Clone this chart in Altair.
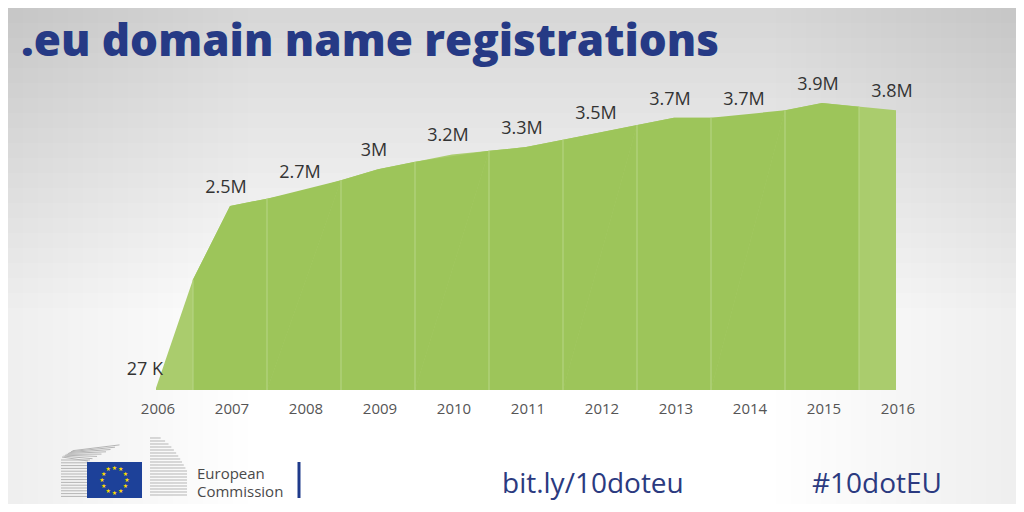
import altair as alt
import numpy as np
import pandas as pd

# ---------------- data ----------------
years = [2006, 2007, 2008, 2009, 2010, 2011, 2012, 2013, 2014, 2015, 2016]
values = [27000, 2500000, 2700000, 3000000, 3200000, 3300000, 3500000,
          3700000, 3700000, 3900000, 3800000]
labels = ["27 K", "2.5M", "2.7M", "3M", "3.2M", "3.3M", "3.5M",
          "3.7M", "3.7M", "3.9M", "3.8M"]
# extra visible vertex of the outline between 2006 and 2007
kink_years = [2006.5]
kink_values = [1500000]

W, H = 1008, 496

pts = pd.DataFrame({"year": years, "value": values, "label": labels})
area_df = pd.concat([
    pts[["year", "value"]],
    pd.DataFrame({"year": kink_years, "value": kink_values}),
]).sort_values("year").reset_index(drop=True)

# clip the outline into the alternate (darker) year columns
xs = area_df["year"].to_numpy(dtype=float)
vs = area_df["value"].to_numpy(dtype=float)
band_rows = []
for yr in years[1::2]:
    lo, hi = yr - 0.5, yr + 0.5
    cols = [lo] + [x for x in xs if lo < x < hi] + [hi]
    for x in cols:
        band_rows.append({"band": yr, "year": x, "value": float(np.interp(x, xs, vs))})
band_df = pd.DataFrame(band_rows)
sep_x = [y + 0.5 for y in years[:-1]]
sep_df = pd.DataFrame({"year": sep_x, "value": np.interp(sep_x, xs, vs)})

xscale = alt.Scale(domain=[2006, 2016], range=[148, 888], nice=False, zero=False)
yscale = alt.Scale(domain=[0, 4000000], range=[382, 87.6], nice=False)
X = alt.X("year:Q", scale=xscale, axis=None)
Y = alt.Y("value:Q", scale=yscale, axis=None)

LIGHT, DARK, SEP = "#aacc6d", "#9dc55a", "#b8d687"

one = alt.Data(values=[{"k": 1}])

# ---- soft vignette (stacked translucent strips) ----
vig_top = alt.Chart(alt.sequence(1, 21, as_="i")).transform_calculate(
    t0="0", t1="datum.i * 15"
).mark_rect(color="#000000", opacity=0.006).encode(
    x=alt.value(0), x2=alt.value(W),
    y=alt.Y("t0:Q", scale=None, axis=None), y2="t1:Q")
vig_left = alt.Chart(alt.sequence(1, 17, as_="i")).transform_calculate(
    l0="0", l1="datum.i * 15"
).mark_rect(color="#000000", opacity=0.004).encode(
    x=alt.X("l0:Q", scale=None, axis=None), x2="l1:Q",
    y=alt.value(0), y2=alt.value(H))
vig_right = alt.Chart(alt.sequence(1, 17, as_="i")).transform_calculate(
    r0="1008 - datum.i * 15", r1="1008"
).mark_rect(color="#000000", opacity=0.004).encode(
    x=alt.X("r0:Q", scale=None, axis=None), x2="r1:Q",
    y=alt.value(0), y2=alt.value(H))

area = alt.Chart(area_df).mark_area(interpolate="linear", color=LIGHT).encode(x=X, y=Y)
dark_bands = alt.Chart(band_df).mark_area(interpolate="linear", color=DARK).encode(
    x=X, y=Y, detail="band:N")
seps = alt.Chart(sep_df).mark_rule(color=SEP, strokeWidth=1).encode(
    x=X, y=Y, y2=alt.value(382))

LABEL_FONT = "Open Sans"
val_labels = alt.Chart(pts).transform_filter("datum.year > 2006").mark_text(
    font=LABEL_FONT, fontSize=18, color="#333333", dx=-4, dy=-13,
    align="center", baseline="alphabetic",
).encode(x=X, y=Y, text="label:N")

first_label = alt.Chart(pts).transform_filter("datum.year == 2006").mark_text(
    font=LABEL_FONT, fontSize=18, color="#333333", dx=7, dy=-13,
    align="right", baseline="alphabetic",
).encode(x=X, y=Y, text="label:N")

year_labels = alt.Chart(pts).mark_text(
    font=LABEL_FONT, fontSize=15, color="#555555",
    align="center", baseline="alphabetic", dx=2,
).encode(x=X, y=alt.value(406), text="year:N")

BLUE = "#263a85"
title = alt.Chart(one).mark_text(
    text=".eu domain name registrations", font="Open Sans", fontWeight=800,
    fontSize=44, color=BLUE, align="left", baseline="alphabetic",
).encode(x=alt.value(13), y=alt.value(48))

link = alt.Chart(one).mark_text(
    text="bit.ly/10doteu", font="Open Sans", fontSize=28, color="#2b3a80",
    align="left", baseline="alphabetic",
).encode(x=alt.value(494), y=alt.value(485))

tag = alt.Chart(one).mark_text(
    text="#10dotEU", font="Open Sans", fontSize=28, color="#2b3a80",
    align="left", baseline="alphabetic",
).encode(x=alt.value(804), y=alt.value(485))

ec1 = alt.Chart(one).mark_text(
    text="European", font="Open Sans", fontSize=15, color="#4a4a4a",
    align="left", baseline="alphabetic",
).encode(x=alt.value(189), y=alt.value(471))
ec2 = alt.Chart(one).mark_text(
    text="Commission", font="Open Sans", fontSize=15, color="#4a4a4a",
    align="left", baseline="alphabetic",
).encode(x=alt.value(189), y=alt.value(489))

bar = alt.Chart(one).mark_rule(color="#1f3a8a", strokeWidth=3).encode(
    x=alt.value(291), y=alt.value(454), y2=alt.value(490))

# ---- stylised EC logo (decoration) ----
left_lines = alt.Chart(alt.sequence(0, 14, as_="i")).transform_calculate(
    lx1="53", lx2="82", ly="452 + datum.i * 2.8"
).mark_rule(color="#b5b5b5", strokeWidth=1).encode(
    x=alt.X("lx1:Q", scale=None, axis=None), x2="lx2:Q",
    y=alt.Y("ly:Q", scale=None, axis=None))

slant_lines = alt.Chart(alt.sequence(0, 8, as_="i")).transform_calculate(
    sx1="54 + datum.i * 1.5", sx2="80 + datum.i * 4.5",
    sy1="449 - datum.i * 0.9", sy2="453 - datum.i * 2.3"
).mark_rule(color="#b5b5b5", strokeWidth=1).encode(
    x=alt.X("sx1:Q", scale=None, axis=None), x2="sx2:Q",
    y=alt.Y("sy1:Q", scale=None, axis=None), y2="sy2:Q")

right_lines = alt.Chart(alt.sequence(0, 20, as_="i")).transform_calculate(
    rx1="142",
    rx2="142 + 37 * sqrt(min(1, (datum.i + 1) / 12))",
    ry="430 + datum.i * 3"
).mark_rule(color="#b5b5b5", strokeWidth=1).encode(
    x=alt.X("rx1:Q", scale=None, axis=None), x2="rx2:Q",
    y=alt.Y("ry:Q", scale=None, axis=None))

flag = alt.Chart(one).mark_rect(color="#1d4199").encode(
    x=alt.value(79), x2=alt.value(134), y=alt.value(454), y2=alt.value(490))

stars = alt.Chart(alt.sequence(0, 12, as_="i")).transform_calculate(
    stx="106.5 + 12.5 * cos(datum.i * 0.5235988)",
    sty="472 + 12.5 * sin(datum.i * 0.5235988)"
).mark_text(text="★", font="DejaVu Sans", fontSize=6, color="#ffdd00",
            align="center", baseline="middle").encode(
    x=alt.X("stx:Q", scale=None, axis=None),
    y=alt.Y("sty:Q", scale=None, axis=None))

chart = alt.layer(
    vig_top, vig_left, vig_right,
    area, dark_bands, seps, val_labels, first_label, year_labels, title,
    ec1, ec2, bar, link, tag,
    left_lines, slant_lines, right_lines, flag, stars,
).resolve_scale(x="independent", y="independent").properties(
    width=W, height=H, padding=0,
    autosize=alt.AutoSizeParams(type="none"),
).configure(background="#ffffff").configure_view(stroke=None, strokeWidth=0)

chart.save("out.html", embed_options={"renderer": "svg", "actions": False})
